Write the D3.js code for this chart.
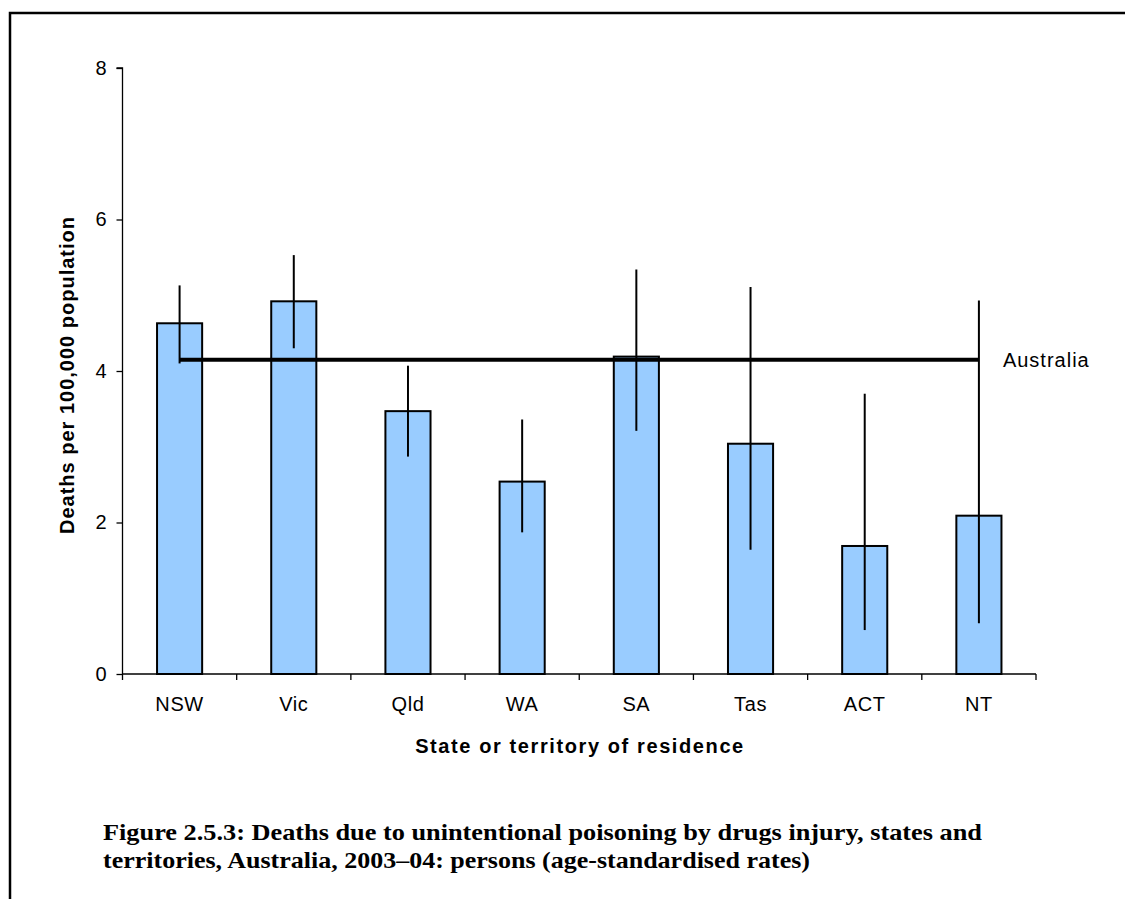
<!DOCTYPE html>
<html>
<head>
<meta charset="utf-8">
<script src="https://cdn.jsdelivr.net/npm/d3@7"></script>
<style>
  html, body { margin: 0; padding: 0; background: #fff; }
  svg { display: block; }
</style>
</head>
<body>
<svg id="chart" width="1125" height="899"></svg>
<script>
const categories = ["NSW", "Vic", "Qld", "WA", "SA", "Tas", "ACT", "NT"];
const rates = [4.63, 4.92, 3.47, 2.54, 4.19, 3.04, 1.69, 2.09];
const lowerCI = [4.10, 4.30, 2.87, 1.87, 3.21, 1.64, 0.58, 0.67];
const upperCI = [5.13, 5.53, 4.07, 3.36, 5.34, 5.11, 3.70, 4.93];
const australiaRate = 4.15;
const yTicks = [0, 2, 4, 6, 8];
const yTitle = "Deaths per 100,000 population";
const xTitle = "State or territory of residence";
const captionLines = [
  "Figure 2.5.3: Deaths due to unintentional poisoning by drugs injury, states and",
  "territories, Australia, 2003\u201304: persons (age-standardised rates)"
];

const svg = d3.select("#chart");
const sans = "'Liberation Sans', Arial, sans-serif";

// frame
svg.append("rect").attr("x", 10).attr("y", 13).attr("width", 1200).attr("height", 1000)
  .attr("fill", "none").attr("stroke", "#000").attr("stroke-width", 2.5);

const x = d3.scaleBand().domain(categories).range([122.5, 1036]).padding(0);
const y = d3.scaleLinear().domain([0, 8]).range([674, 68]);
const barW = x.bandwidth() * 0.395;
const cx = d => x(d) + x.bandwidth() / 2;

// y axis
const yAxis = svg.append("g").attr("transform", "translate(122.5,0)")
  .call(d3.axisLeft(y).tickValues(yTicks).tickSize(6).tickPadding(10).tickFormat(d3.format("d")));
yAxis.select(".domain").attr("stroke", "#000").attr("stroke-width", 1.3).attr("d", `M-6,${y(8)}H0V${y(0)}`);
yAxis.selectAll(".tick line").attr("stroke-width", 1.3);
yAxis.selectAll("text").attr("font-family", sans).attr("font-size", 20).attr("fill", "#000");

// bars
const data = categories.map((c, i) => ({ c, v: rates[i], lo: lowerCI[i], hi: upperCI[i] }));
svg.append("g").selectAll("rect").data(data).join("rect")
  .attr("x", d => cx(d.c) - barW / 2)
  .attr("y", d => y(d.v))
  .attr("width", barW)
  .attr("height", d => y(0) - y(d.v))
  .attr("fill", "#99CCFF")
  .attr("stroke", "#000")
  .attr("stroke-width", 2);

// x axis (ticks between categories)
const xAxisG = svg.append("g").attr("transform", `translate(0,${y(0)})`);
xAxisG.append("line").attr("x1", 122.5).attr("x2", 1036).attr("y1", 0).attr("y2", 0)
  .attr("stroke", "#000").attr("stroke-width", 1.3);
const bounds = categories.map(c => x(c)).concat([x(categories[categories.length - 1]) + x.bandwidth()]);
xAxisG.selectAll("line.tk").data(bounds).join("line").attr("class", "tk")
  .attr("x1", d => d).attr("x2", d => d).attr("y1", 0).attr("y2", 6)
  .attr("stroke", "#000").attr("stroke-width", 1.3);
xAxisG.selectAll("text").data(categories).join("text")
  .attr("x", d => cx(d)).attr("y", 37)
  .attr("text-anchor", "middle")
  .attr("font-family", sans).attr("font-size", 20).attr("letter-spacing", 0.6).attr("fill", "#000")
  .text(d => d);

// Australia line
svg.append("line")
  .attr("x1", cx(categories[0])).attr("x2", cx(categories[categories.length - 1]))
  .attr("y1", y(australiaRate)).attr("y2", y(australiaRate))
  .attr("stroke", "#000").attr("stroke-width", 4);
svg.append("text")
  .attr("x", cx(categories[categories.length - 1]) + 24).attr("y", y(australiaRate) + 7)
  .attr("font-family", sans).attr("font-size", 20).attr("letter-spacing", 1).attr("fill", "#000")
  .text("Australia");

// error bars
svg.append("g").selectAll("line").data(data).join("line")
  .attr("x1", d => cx(d.c)).attr("x2", d => cx(d.c))
  .attr("y1", d => y(d.hi)).attr("y2", d => y(d.lo))
  .attr("stroke", "#000").attr("stroke-width", 2);

// axis titles
svg.append("text")
  .attr("transform", `translate(74,375) rotate(-90)`)
  .attr("text-anchor", "middle")
  .attr("font-family", sans).attr("font-size", 20).attr("font-weight", "bold")
  .attr("letter-spacing", 1).attr("fill", "#000")
  .text(yTitle);
svg.append("text")
  .attr("x", 580).attr("y", 753)
  .attr("text-anchor", "middle")
  .attr("font-family", sans).attr("font-size", 20).attr("font-weight", "bold")
  .attr("letter-spacing", 1.6).attr("fill", "#000")
  .text(xTitle);

// caption
const capWidths = [879, 707];
svg.append("g").selectAll("text").data(captionLines).join("text")
  .attr("x", 103).attr("y", (d, i) => 840 + i * 28)
  .attr("font-family", "'Liberation Serif', 'DejaVu Serif', serif")
  .attr("font-size", 23).attr("font-weight", "bold").attr("fill", "#000")
  .attr("textLength", (d, i) => capWidths[i]).attr("lengthAdjust", "spacingAndGlyphs")
  .text(d => d);
</script>
</body>
</html>
